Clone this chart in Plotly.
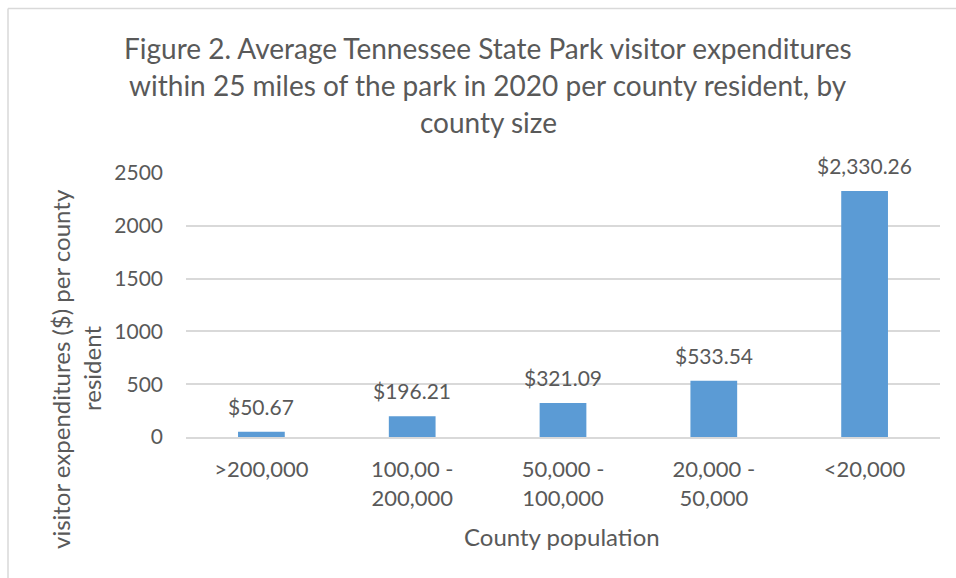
import plotly.graph_objects as go

# County size groups and average visitor spending per county resident
categories = [">200,000", "100,00 -<br>200,000", "50,000 -<br>100,000", "20,000 -<br>50,000", "<20,000"]
values = [50.67, 196.21, 321.09, 533.54, 2330.26]
value_labels = ["$50.67", "$196.21", "$321.09", "$533.54", "$2,330.26"]
y_ticks = [0, 500, 1000, 1500, 2000, 2500]

title_lines = [
    "Figure 2. Average Tennessee State Park visitor expenditures",
    "within 25 miles of the park in 2020 per county resident, by",
    "county size",
]
y_title_lines = ["visitor expenditures ($) per county", "resident"]
x_title = "County population"

FONT = "Lato, Calibri, Carlito, sans-serif"
TEXT = "#595959"
BAR = "#5B9BD5"
GRID = "#D9D9D9"

W, H = 956, 578
L, R, T, B = 186, 16, 173, 141
plot_h = H - T - B
plot_w = W - L - R


def py(pix):
    """pixel row -> paper y"""
    return (H - B - pix) / plot_h


def px(pix):
    """pixel column -> paper x"""
    return (pix - L) / plot_w


fig = go.Figure()
fig.add_trace(go.Bar(
    x=categories, y=values, marker_color=BAR, marker_line_width=0,
    hoverinfo="skip",
))

annotations = []
# value labels above the bars
for c, v, t in zip(categories, values, value_labels):
    annotations.append(dict(
        x=c, y=v, xref="x", yref="y", text=t, showarrow=False,
        yanchor="bottom", yshift=11, font=dict(family=FONT, size=21, color=TEXT),
    ))

# chart title, one line at a time
for i, line in enumerate(title_lines):
    annotations.append(dict(
        x=px(488), y=py(48 + i * 37), xref="paper", yref="paper", text=line,
        showarrow=False, xanchor="center", yanchor="middle",
        font=dict(family=FONT, size=28, color=TEXT),
    ))

# rotated y-axis title
for xpix, line in zip([60, 91], y_title_lines):
    annotations.append(dict(
        x=px(xpix), y=py(369), xref="paper", yref="paper", text=line,
        showarrow=False, textangle=-90, xanchor="center", yanchor="middle",
        font=dict(family=FONT, size=24, color=TEXT),
    ))

# x-axis title
annotations.append(dict(
    x=px(562), y=py(536), xref="paper", yref="paper", text=x_title,
    showarrow=False, xanchor="center", yanchor="middle",
    font=dict(family=FONT, size=24, color=TEXT),
))

# chart-area border (top and left edges)
shapes = [
    dict(type="line", xref="paper", yref="paper", x0=px(8), x1=px(W + 5),
         y0=py(8.5), y1=py(8.5), line=dict(color=GRID, width=1.5)),
    dict(type="line", xref="paper", yref="paper", x0=px(8), x1=px(8),
         y0=py(8.5), y1=py(H + 5), line=dict(color=GRID, width=1.5)),
]

fig.update_layout(
    width=W, height=H,
    margin=dict(l=L, r=R, t=T, b=B, pad=0),
    paper_bgcolor="white", plot_bgcolor="white",
    showlegend=False, bargap=0.69,
    annotations=annotations, shapes=shapes,
    font=dict(family=FONT, color=TEXT),
)
fig.update_xaxes(
    showgrid=False, showline=True, linecolor=GRID, linewidth=1.5,
    ticks="", tickfont=dict(family=FONT, size=22, color=TEXT),
    ticklabelstandoff=12,
)
fig.update_yaxes(
    range=[0, 2500], tickvals=y_ticks, showgrid=True, gridcolor=GRID, gridwidth=1.5,
    zeroline=False, showline=False, ticks="",
    tickfont=dict(family=FONT, size=21, color=TEXT), ticklabelstandoff=22,
)

fig.write_html("out.html", config={"displayModeBar": False})
